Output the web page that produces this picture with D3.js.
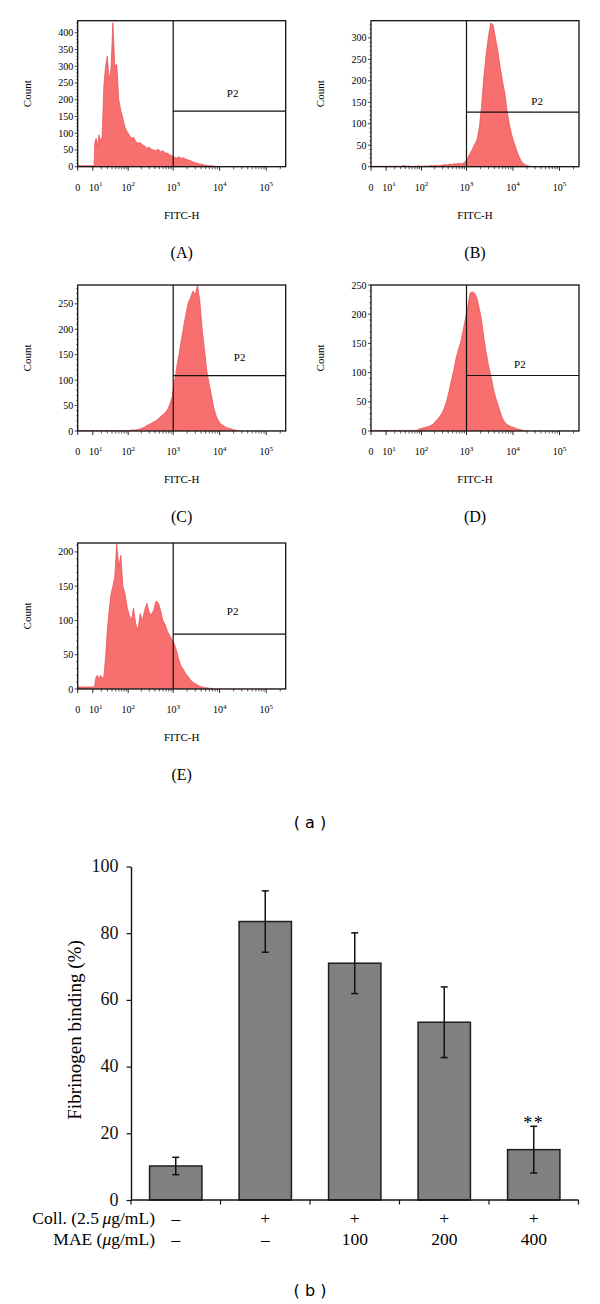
<!DOCTYPE html>
<html><head><meta charset="utf-8">
<script src="https://cdn.jsdelivr.net/npm/d3@7"></script>
<style>body{margin:0;background:#fff} svg{display:block}</style>
</head><body><svg id="c" width="600" height="1304"></svg>
<script>
// ---------------- DATA ----------------
const panelNames = ["(A)", "(B)", "(C)", "(D)", "(E)"];
const yMaxes = [436, 340, 287, 250, 213];
const gateCounts = [166, 127, 109, 95, 80];
const gateValue = 1000;
const p2Log = [4.28, 4.52, 4.43, 4.15, 4.28];
const p2Count = [220, 154, 146, 115, 114];
const xMax = 262143;
const xTickExps = [1, 2, 3, 4, 5];
const binStep = 0.05;
const binStartLog = [1.05, 1.5, 2.0, 1.9, 1.05];
const lowCounts = [3, 1, 1, 1, 3];
const countsA = [70,85,62,95,75,90, 240,300,330,260,290,430, 300,305,200,168,145,118, 105,95,85,88,75,70, 72,65,62,55,58,52, 50,48,52,45,48,42, 40,36,32,28,26,30, 25,27,22,20,18,15, 12,10,8,7,5,4, 3,3,2,1,1,0];
const countsB = [2,3,1,2,1,0,1,1,2,1,1,2,1,2,3,2,3,2,3,4,5,4,6,5,7,6,8,7, 8,12,20,30,40,52,62,90,140,210,262,305,335,330,300,270,232,200,172,130,98,74,56,40,25,14,7,4,2,1,0];
const countsC = [1,2,2,2,3,4,6,8,11,13,15,18,20,24,28,32,36,42,52,66,95,125,150,178,205,230,252,262,275,268,287,255,200,160,118,92,70,45,30,20,14,11,8,6,5,3,2,1,0];
const countsD = [3,4,5,6,7,8,10,12,17,21,26,32,41,53,70,88,105,125,140,152,172,192,212,236,238,236,228,210,190,160,135,112,95,75,58,46,33,22,15,11,9,7,6,4,3,2,1,0];
const countsE = [5,18,20,14,20,16,18,45,85,115,138,150,164,212,178,195,150,139,120,108,100,118,95,86,110,100,115,125,112,108,115,128,126,115,100,94,84,78,72,66,55,42,33,28,22,18,13,10,8,6,4,3,2,2,1,1,0];
const allCounts = [countsA, countsB, countsC, countsD, countsE];

const barCategories = ["g1", "g2", "g3", "g4", "g5"];
const collLabels = ["\u2013", "+", "+", "+", "+"];
const maeLabels = ["\u2013", "\u2013", "100", "200", "400"];
const binding = [10.2, 83.5, 71.0, 53.3, 15.1];
const bindingErr = [2.6, 9.2, 9.1, 10.6, 7.0];
const signif = ["", "", "", "", "**"];
const barYTicks = [0, 20, 40, 60, 80, 100];

// ---------------- DRAW ----------------
const svg = d3.select("#c");
const serif = "'Liberation Serif','Times New Roman',serif";
const colX = [77.7, 371];
const rowBottom = [166.7, 431, 689];
const frameW = 208, frameH = 146;
const defs = svg.append("defs");

panelNames.forEach((name, i) => {
  const col = i % 2, row = Math.floor(i / 2);
  const left = colX[col], bottom = rowBottom[row], top = bottom - frameH;
  const x = d3.scaleSymlog().constant(9).domain([0, xMax]).range([left, left + frameW]);
  const y = d3.scaleLinear().domain([0, yMaxes[i]]).range([bottom, top]);
  const g = svg.append("g");

  defs.append("clipPath").attr("id", "clip" + i)
    .append("rect").attr("x", left).attr("y", top).attr("width", frameW).attr("height", frameH);

  // histogram: polyline through bin centres
  const counts = allCounts[i];
  const s0 = binStartLog[i];
  const pts = [[0, lowCounts[i]], [Math.pow(10, s0), lowCounts[i]]];
  counts.forEach((c, k) => pts.push([Math.pow(10, s0 + (k + 0.5) * binStep), c]));
  pts.push([Math.pow(10, s0 + counts.length * binStep), 0]);
  pts.push([xMax, 0]);
  const area = d3.area().x(d => x(d[0])).y0(y(0)).y1(d => y(d[1]));
  const line = d3.line().x(d => x(d[0])).y(d => y(d[1]));
  const hg = g.append("g").attr("clip-path", `url(#clip${i})`);
  hg.append("path").attr("d", area(pts)).attr("fill", "#f76f6f");
  hg.append("path").attr("d", line(pts)).attr("fill", "none").attr("stroke", "#ea4a4f").attr("stroke-width", 0.7);

  // gate
  g.append("line").attr("x1", x(gateValue)).attr("x2", x(gateValue)).attr("y1", top).attr("y2", bottom)
    .attr("stroke", "#111").attr("stroke-width", 1.2);
  g.append("line").attr("x1", x(gateValue)).attr("x2", left + frameW).attr("y1", y(gateCounts[i])).attr("y2", y(gateCounts[i]))
    .attr("stroke", "#111").attr("stroke-width", 1.2);
  g.append("text").attr("x", x(Math.pow(10, p2Log[i]))).attr("y", y(p2Count[i]) + 4)
    .attr("text-anchor", "middle").attr("font-family", serif).attr("font-size", 11).text("P2");

  // frame
  g.append("rect").attr("x", left).attr("y", top).attr("width", frameW).attr("height", frameH)
    .attr("fill", "none").attr("stroke", "#111").attr("stroke-width", 1.3);

  // y ticks
  const majors = d3.range(0, yMaxes[i] + 0.1, 50);
  const minors = d3.range(0, yMaxes[i], 10).filter(v => v % 50 !== 0);
  g.selectAll(".ymaj").data(majors).join("line")
    .attr("x1", left - 3).attr("x2", left).attr("y1", d => y(d)).attr("y2", d => y(d)).attr("stroke", "#111").attr("stroke-width", 0.8);
  g.selectAll(".ymin").data(minors).join("line")
    .attr("x1", left - 1.6).attr("x2", left).attr("y1", d => y(d)).attr("y2", d => y(d)).attr("stroke", "#111").attr("stroke-width", 0.6);
  g.selectAll(".ylab").data(majors).join("text")
    .attr("x", left - 4.5).attr("y", d => y(d) + 3.5).attr("text-anchor", "end")
    .attr("font-family", serif).attr("font-size", 10).text(d => d);

  // x ticks
  const xMaj = [0].concat(xTickExps.map(e => Math.pow(10, e)));
  const xMin = [];
  [1, 2, 3, 4].forEach(e => { for (let m = 2; m <= 9; m++) xMin.push(m * Math.pow(10, e)); });
  xMin.push(2e5);
  g.selectAll(".xmaj").data(xMaj).join("line")
    .attr("x1", d => x(d)).attr("x2", d => x(d)).attr("y1", bottom).attr("y2", bottom + 4).attr("stroke", "#111").attr("stroke-width", 0.9);
  g.selectAll(".xmin").data(xMin).join("line")
    .attr("x1", d => x(d)).attr("x2", d => x(d)).attr("y1", bottom).attr("y2", bottom + 2.5).attr("stroke", "#111").attr("stroke-width", 0.7);
  g.append("text").attr("x", x(0)).attr("y", bottom + 24).attr("text-anchor", "middle")
    .attr("font-family", serif).attr("font-size", 10).text("0");
  xTickExps.forEach(e => {
    const t = g.append("text").attr("x", x(Math.pow(10, e)) + (e === 1 ? 3 : 0)).attr("y", bottom + 24)
      .attr("text-anchor", "middle").attr("font-family", serif).attr("font-size", 10);
    t.append("tspan").text("10");
    t.append("tspan").attr("dy", -4.5).attr("font-size", 7).text(e);
  });

  // axis titles
  g.append("text").attr("x", left + frameW / 2).attr("y", bottom + 52).attr("text-anchor", "middle")
    .attr("font-family", serif).attr("font-size", 11).text("FITC-H");
  g.append("text").attr("transform", `translate(${left - 47},${top + frameH / 2}) rotate(-90)`)
    .attr("text-anchor", "middle").attr("font-family", serif).attr("font-size", 11).text("Count");
  g.append("text").attr("x", left + frameW / 2).attr("y", bottom + 91).attr("text-anchor", "middle")
    .attr("font-family", serif).attr("font-size", 16).text(name);
});

svg.append("text").attr("x", 310).attr("y", 828).attr("text-anchor", "middle")
  .attr("font-family", "'DejaVu Sans',sans-serif").attr("font-size", 16).attr("xml:space", "preserve").text("( a )");

// ---------------- BAR CHART ----------------
const bx = d3.scaleBand().domain(barCategories).range([131, 578.5]).paddingInner(0.415).paddingOuter(0.2075);
const by = d3.scaleLinear().domain([0, 100]).range([1200, 866.5]);
const bg = svg.append("g");
bg.selectAll(".bar").data(binding).join("rect")
  .attr("x", (d, i) => bx(barCategories[i])).attr("width", bx.bandwidth())
  .attr("y", d => by(d)).attr("height", d => by(0) - by(d))
  .attr("fill", "#808080").attr("stroke", "#1e1e1e").attr("stroke-width", 1.5);
binding.forEach((v, i) => {
  const cx = bx(barCategories[i]) + bx.bandwidth() / 2;
  const hi = by(v + bindingErr[i]), lo = by(v - bindingErr[i]);
  bg.append("line").attr("x1", cx).attr("x2", cx).attr("y1", hi).attr("y2", lo).attr("stroke", "#111").attr("stroke-width", 1.5);
  [hi, lo].forEach(yy => bg.append("line").attr("x1", cx - 3.5).attr("x2", cx + 3.5).attr("y1", yy).attr("y2", yy).attr("stroke", "#111").attr("stroke-width", 1.5));
  if (signif[i]) bg.append("text").attr("x", cx).attr("y", by(v + bindingErr[i]) + 3).attr("text-anchor", "middle")
    .attr("font-family", serif).attr("font-size", 18).attr("letter-spacing", 1.5).text(signif[i]);
  bg.append("text").attr("x", cx).attr("y", 1224).attr("text-anchor", "middle").attr("font-family", serif).attr("font-size", 17.5).text(collLabels[i]);
  bg.append("text").attr("x", cx).attr("y", 1245).attr("text-anchor", "middle").attr("font-family", serif).attr("font-size", 17.5).text(maeLabels[i]);
});
// y axis
const yAx = bg.append("g").attr("transform", "translate(131,0)")
  .call(d3.axisLeft(by).tickValues(barYTicks).tickSize(4.5).tickSizeOuter(0).tickPadding(8));
yAx.select(".domain").attr("stroke", "#111").attr("stroke-width", 1.4);
yAx.selectAll(".tick line").attr("stroke", "#111").attr("stroke-width", 1.2);
yAx.selectAll("text").attr("font-family", serif).attr("font-size", 18).attr("fill", "#111").attr("dy", "0.28em");
// x axis
const bounds = barCategories.map(c => bx(c) - bx.step() * bx.paddingInner() / 2).concat([578.5]);
bg.append("line").attr("x1", 131).attr("x2", 578.5).attr("y1", 1200).attr("y2", 1200).attr("stroke", "#111").attr("stroke-width", 1.4);
bg.selectAll(".xt").data(bounds).join("line").attr("x1", d => d).attr("x2", d => d).attr("y1", 1200).attr("y2", 1204.5)
  .attr("stroke", "#111").attr("stroke-width", 1.2);
// row labels
const r1 = bg.append("text").attr("x", 155).attr("y", 1224).attr("text-anchor", "end").attr("font-family", serif).attr("font-size", 17.5);
r1.append("tspan").text("Coll. (2.5\u2009");
r1.append("tspan").attr("font-style", "italic").text("\u03bc");
r1.append("tspan").text("g/mL)");
const r2 = bg.append("text").attr("x", 155).attr("y", 1245).attr("text-anchor", "end").attr("font-family", serif).attr("font-size", 17.5);
r2.append("tspan").text("MAE (");
r2.append("tspan").attr("font-style", "italic").text("\u03bc");
r2.append("tspan").text("g/mL)");
// y title
bg.append("text").attr("transform", "translate(81,1030) rotate(-90)").attr("text-anchor", "middle")
  .attr("font-family", serif).attr("font-size", 19).text("Fibrinogen binding (%)");

svg.append("text").attr("x", 310).attr("y", 1296).attr("text-anchor", "middle")
  .attr("font-family", "'DejaVu Sans',sans-serif").attr("font-size", 16).attr("xml:space", "preserve").text("( b )");
</script>
</body></html>
